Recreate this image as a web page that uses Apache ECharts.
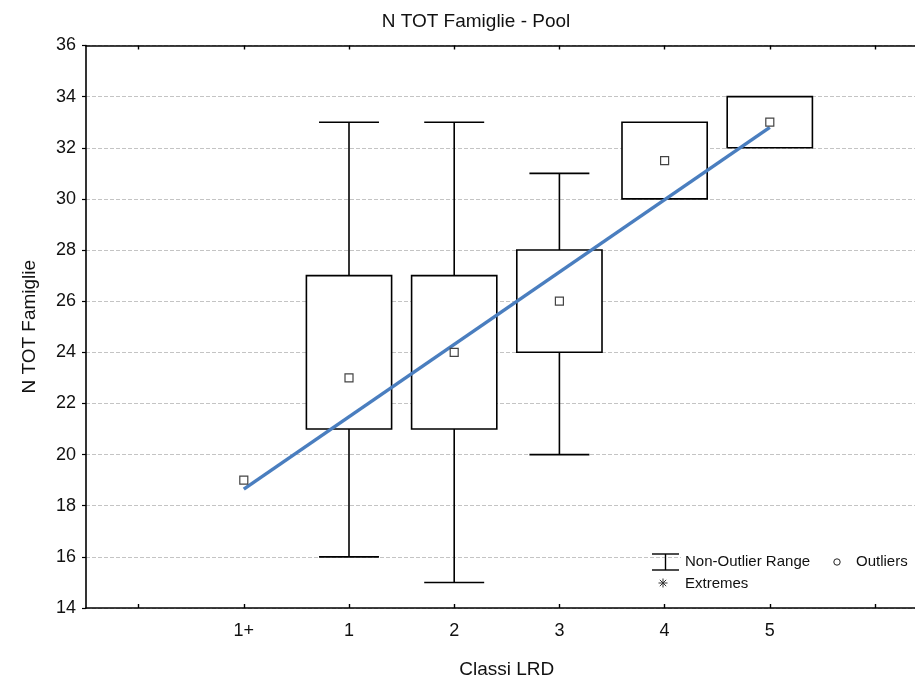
<!DOCTYPE html>
<html>
<head>
<meta charset="utf-8">
<script src="https://cdn.jsdelivr.net/npm/echarts@6/dist/echarts.min.js"></script>
<style>
  html, body { margin: 0; padding: 0; background: #fff; overflow: hidden; }
  /* the plot frame runs past the right edge of the page, so the canvas is wider than the window */
  #chart { width: 940px; height: 684px; }
</style>
</head>
<body>
<div id="chart"></div>
<script>
// Classes on the horizontal axis (empty slots pad both ends of the axis)
const categories = ['', '1+', '1', '2', '3', '4', '5', ''];
// Per-class summary: centre point, box edges, non-outlier range
const medians   = [null, 19, 23, 24, 26, 31.5, 33, null];
const boxLow    = [null, 19, 21, 21, 24, 30, 32, null];
const boxHigh   = [null, 19, 27, 27, 28, 33, 34, null];
const rangeLow  = [null, 19, 16, 15, 20, 30, 32, null];
const rangeHigh = [null, 19, 33, 33, 31, 33, 34, null];
// Fitted trend line end points
const fitCategories = ['1+', '5'];
const fitValues = [18.65, 32.8];
// Value axis ticks
const yMin = 14, yMax = 36, yStep = 2;

const FONT = 'Liberation Sans';

const boxData = [];
const pointData = [];
categories.forEach(function (c, i) {
  if (medians[i] == null) return;
  boxData.push([i, rangeLow[i], boxLow[i], medians[i], boxHigh[i], rangeHigh[i]]);
  pointData.push([i, medians[i]]);
});
const fitData = fitCategories.map(function (c, k) { return [c, fitValues[k]]; });

function renderBox(params, api) {
  const x = api.value(0);
  const lo = api.value(1), q1 = api.value(2), q3 = api.value(4), hi = api.value(5);
  const pLo = api.coord([x, lo]);
  const pQ1 = api.coord([x, q1]);
  const pQ3 = api.coord([x, q3]);
  const pHi = api.coord([x, hi]);
  const band = api.size([1, 0])[0];
  const boxW = band * 0.81;
  const capW = band * 0.57;
  const cx = pQ1[0];
  const st = { stroke: '#000', lineWidth: 1.6, fill: null };
  const children = [];
  if (hi > q3) {
    children.push({ type: 'line', shape: { x1: cx, y1: pQ3[1], x2: cx, y2: pHi[1] }, style: st });
    children.push({ type: 'line', shape: { x1: cx - capW / 2, y1: pHi[1], x2: cx + capW / 2, y2: pHi[1] }, style: st });
  }
  if (lo < q1) {
    children.push({ type: 'line', shape: { x1: cx, y1: pQ1[1], x2: cx, y2: pLo[1] }, style: st });
    children.push({ type: 'line', shape: { x1: cx - capW / 2, y1: pLo[1], x2: cx + capW / 2, y2: pLo[1] }, style: st });
  }
  if (q3 > q1) {
    children.push({
      type: 'rect',
      shape: { x: cx - boxW / 2, y: pQ3[1], width: boxW, height: pQ1[1] - pQ3[1] },
      style: { stroke: '#000', lineWidth: 1.6, fill: '#fff' }
    });
  }
  return { type: 'group', children: children };
}

const chart = echarts.init(document.getElementById('chart'), null, { renderer: 'canvas' });

const legendText = { fontFamily: FONT, fontSize: 15, fill: '#111', verticalAlign: 'top' };
const ink = { stroke: '#000', lineWidth: 1.4 };
const star = { stroke: '#333', lineWidth: 1 };

chart.setOption({
  animation: false,
  backgroundColor: '#fff',
  title: {
    text: 'N TOT Famiglie - Pool',
    left: 471,
    top: 7,
    textAlign: 'center',
    textStyle: { fontFamily: FONT, fontSize: 19, fontWeight: 'normal', color: '#111' }
  },
  grid: { left: 86, top: 45.5, width: 841.6, height: 563.8, containLabel: false },
  xAxis: [
    {
      type: 'category',
      data: categories,
      position: 'bottom',
      boundaryGap: true,
      name: 'Classi LRD',
      nameLocation: 'middle',
      nameGap: 52,
      nameTextStyle: { fontFamily: FONT, fontSize: 19, color: '#111' },
      axisLine: { show: true, lineStyle: { color: '#000', width: 1.6 } },
      axisTick: { show: true, alignWithLabel: true, inside: true, length: 4, lineStyle: { color: '#000', width: 1.4 } },
      axisLabel: { fontFamily: FONT, fontSize: 18, color: '#111', margin: 14, interval: 0 },
      splitLine: { show: false }
    },
    {
      type: 'category',
      data: categories,
      position: 'top',
      boundaryGap: true,
      axisLine: { show: true, lineStyle: { color: '#000', width: 1.6 } },
      axisTick: { show: true, alignWithLabel: true, inside: true, length: 4, lineStyle: { color: '#000', width: 1.4 } },
      axisLabel: { show: false },
      splitLine: { show: false }
    }
  ],
  yAxis: [
    {
      type: 'value',
      min: yMin,
      max: yMax,
      interval: yStep,
      position: 'left',
      name: 'N TOT Famiglie',
      nameLocation: 'middle',
      nameGap: 47,
      nameTextStyle: { fontFamily: FONT, fontSize: 19, color: '#111' },
      axisLine: { show: true, lineStyle: { color: '#000', width: 1.6 } },
      axisTick: { show: true, inside: false, length: 4, lineStyle: { color: '#000', width: 1.2 } },
      axisLabel: { fontFamily: FONT, fontSize: 18, color: '#111', margin: 10 },
      splitLine: { show: true, lineStyle: { color: '#c4c4c4', width: 1, type: [4, 2] } }
    },
    {
      type: 'value',
      min: yMin,
      max: yMax,
      interval: yStep,
      position: 'right',
      axisLine: { show: true, lineStyle: { color: '#000', width: 1.6 } },
      axisTick: { show: false },
      axisLabel: { show: false },
      splitLine: { show: false }
    }
  ],
  series: [
    {
      type: 'custom',
      name: 'box',
      xAxisIndex: 0,
      yAxisIndex: 0,
      renderItem: renderBox,
      encode: { x: 0, y: [1, 2, 3, 4, 5] },
      data: boxData,
      z: 2,
      silent: true
    },
    {
      type: 'line',
      name: 'fit',
      xAxisIndex: 0,
      yAxisIndex: 0,
      data: fitData,
      symbol: 'none',
      lineStyle: { color: '#4a7ebf', width: 3.5 },
      z: 3,
      silent: true
    },
    {
      type: 'scatter',
      name: 'centre',
      xAxisIndex: 0,
      yAxisIndex: 0,
      data: pointData,
      symbol: 'rect',
      symbolSize: 8,
      itemStyle: { color: '#fff', borderColor: '#444', borderWidth: 1.2, opacity: 1 },
      z: 4,
      silent: true
    }
  ],
  graphic: [
    { type: 'rect', z: 10, shape: { x: 681, y: 548, width: 240, height: 44 }, style: { fill: '#fff' } },
    // range symbol
    { type: 'line', z: 11, shape: { x1: 652, y1: 554, x2: 679, y2: 554 }, style: ink },
    { type: 'line', z: 11, shape: { x1: 665.5, y1: 554, x2: 665.5, y2: 570 }, style: ink },
    { type: 'line', z: 11, shape: { x1: 652, y1: 570, x2: 679, y2: 570 }, style: ink },
    { type: 'text', z: 11, left: 685, top: 554, style: Object.assign({ text: 'Non-Outlier Range' }, legendText) },
    // outlier symbol
    { type: 'circle', z: 11, shape: { cx: 837, cy: 562, r: 3.2 }, style: { stroke: '#222', lineWidth: 1, fill: '#fff' } },
    { type: 'text', z: 11, left: 856, top: 554, style: Object.assign({ text: 'Outliers' }, legendText) },
    // extremes symbol
    { type: 'line', z: 11, shape: { x1: 658.5, y1: 583, x2: 667.5, y2: 583 }, style: star },
    { type: 'line', z: 11, shape: { x1: 663, y1: 578.5, x2: 663, y2: 587.5 }, style: star },
    { type: 'line', z: 11, shape: { x1: 659.8, y1: 579.8, x2: 666.2, y2: 586.2 }, style: star },
    { type: 'line', z: 11, shape: { x1: 666.2, y1: 579.8, x2: 659.8, y2: 586.2 }, style: star },
    { type: 'text', z: 11, left: 685, top: 576, style: Object.assign({ text: 'Extremes' }, legendText) }
  ]
});
</script>
</body>
</html>
